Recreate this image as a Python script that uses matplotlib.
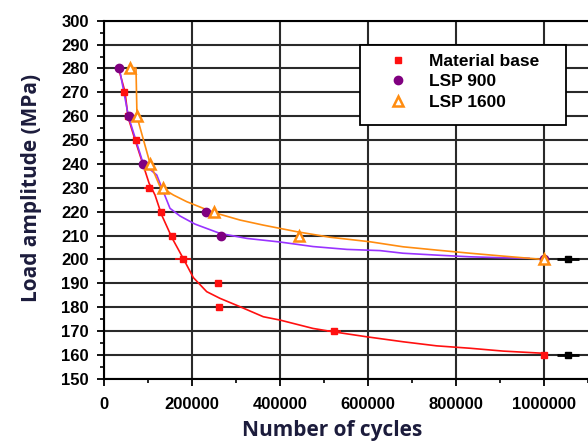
import numpy as np
import matplotlib
matplotlib.use('Agg')
import matplotlib.pyplot as plt
from matplotlib.ticker import MultipleLocator
from matplotlib.patches import Rectangle

# measured points
base_x = [46000, 54000, 72000, 102000, 129500, 155000, 180000, 258000, 262000, 522700, 1000000]
base_y = [270, 260, 250, 230, 220, 210, 200, 190, 180, 170, 160]
base_xerr = [0, 0, 0, 11000, 0, 0, 18000, 0, 0, 16000, 0]

lsp900_x = [34800, 55700, 89300, 232000, 266000, 1000000]
lsp900_y = [280, 260, 240, 220, 210, 200]

lsp1600_x = [59100, 75000, 104500, 133400, 251100, 443200, 1000000]
lsp1600_y = [280, 260, 240, 230, 220, 210, 200]

# run-out markers
runout_x = [1055000, 1055000]
runout_y = [200, 160]
runout_xerr = [25000, 25000]

# fitted curves
base_fit_x = [34100, 47700, 54500, 70500, 102300, 115900, 131100, 155200, 179500, 203000,
              233400, 263600, 309100, 362000, 400000, 475000, 520500, 597000, 680200,
              756100, 831800, 907500, 998400]
base_fit_y = [279.3, 270.3, 259.7, 250.1, 232.0, 227.0, 218.6, 208.8, 200.6, 192.4,
              186.5, 183.7, 180.2, 176.0, 174.6, 171.1, 169.7, 167.6, 165.5,
              163.8, 162.8, 161.6, 160.7]

lsp900_fit_x = [34800, 55700, 89300, 119800, 134800, 150000, 172700, 206800, 263600, 325000,
                400000, 475000, 552300, 627300, 679500, 756800, 831800, 906800, 965900]
lsp900_fit_y = [280.2, 259.8, 240.0, 235.4, 228.4, 221.4, 218.2, 214.8, 210.9, 208.8,
                207.3, 205.4, 204.2, 203.7, 202.6, 201.8, 201.1, 200.7, 200.5]

lsp1600_fit_x = [59100, 72700, 75000, 104500, 127300, 157500, 187900, 225700, 256100, 309100,
                 361400, 438600, 513600, 604500, 679500, 756800, 831800, 906800, 997700]
lsp1600_fit_y = [280.2, 280.2, 259.8, 240.3, 230.5, 227.0, 224.2, 221.4, 219.3, 216.5,
                 214.4, 211.6, 209.3, 207.4, 205.3, 203.9, 202.6, 201.4, 200.0]

red = '#ff1010'
purple = '#800080'
violet = '#9933ff'
orange = '#ff8c10'

fig = plt.figure(figsize=(5.88, 4.41), dpi=100)
ax = fig.add_axes([104 / 588, 1 - 378.8 / 441, 484 / 588, 358.1 / 441])

ax.grid(True, which='major', color='#2a2a2a', lw=1.5, zorder=0)
ax.set_axisbelow(True)

ax.plot(base_fit_x, base_fit_y, color=red, lw=1.2, zorder=2)
ax.plot(lsp900_fit_x, lsp900_fit_y, color=violet, lw=1.2, zorder=2)
ax.plot(lsp1600_fit_x, lsp1600_fit_y, color=orange, lw=1.2, zorder=2)

ax.errorbar(base_x, base_y, xerr=base_xerr, fmt='none', ecolor=red, elinewidth=1.2,
            capsize=0, zorder=3)
h1, = ax.plot(base_x, base_y, 's', color=red, ms=5, zorder=4, label='Material base')
h2, = ax.plot(lsp900_x, lsp900_y, 'o', color=purple, ms=6, zorder=4, label='LSP 900')
h3, = ax.plot(lsp1600_x, lsp1600_y, '^', color=orange, mfc='white', mec=orange, mew=1.8, ms=7,
              zorder=5, label='LSP 1600')
ax.errorbar(runout_x, runout_y, xerr=runout_xerr, fmt='s', color='black', ms=5,
            elinewidth=2, capsize=0, zorder=4)

ax.set_xlim(0, 1100000)
ax.set_ylim(150, 300)
ax.xaxis.set_major_locator(MultipleLocator(200000))
ax.xaxis.set_minor_locator(MultipleLocator(100000))
ax.yaxis.set_major_locator(MultipleLocator(10))
ax.yaxis.set_minor_locator(MultipleLocator(5))
ax.xaxis.set_major_formatter(matplotlib.ticker.FuncFormatter(lambda v, p: '%d' % v))

for lab in ax.get_xticklabels() + ax.get_yticklabels():
    lab.set_fontfamily(['Liberation Sans', 'DejaVu Sans'])
    lab.set_fontweight('bold')
    lab.set_fontsize(12)

ax.tick_params(axis='both', which='major', length=5, width=1.3, color='black', direction='out')
ax.tick_params(axis='both', which='minor', length=3, width=1.2, color='black', direction='out')
ax.tick_params(axis='y', pad=6)
ax.tick_params(axis='x', pad=8)

for s in ['left', 'bottom', 'top']:
    ax.spines[s].set_linewidth(1.5)
    ax.spines[s].set_color('black')
ax.spines['right'].set_visible(False)

label_color = '#1c1c3c'
ax.set_xlabel('Number of cycles', family=['Open Sans', 'DejaVu Sans'], weight='bold',
              fontsize=15, color=label_color)
ax.xaxis.set_label_coords((332 - 104) / 484, -0.115)
ax.set_ylabel('Load amplitude (MPa)', family=['Open Sans', 'DejaVu Sans'], weight='bold',
              fontsize=15, color=label_color)
ax.yaxis.set_label_coords(-0.128, 0.534)

# legend frame drawn separately so its size matches the reference box
box = Rectangle((0.529, 0.709), 0.4255, 0.223, transform=ax.transAxes, facecolor='white',
                edgecolor='black', lw=1.3, zorder=9)
ax.add_patch(box)
leg = ax.legend(handles=[h1, h2, h3], loc='upper left', bbox_to_anchor=(0.529, 0.932),
                numpoints=1,
                prop=dict(family=['Liberation Sans', 'DejaVu Sans'], weight='bold', size=12.5),
                frameon=False, borderpad=0.5, handlelength=3.4, handletextpad=0.05,
                labelspacing=0.3, borderaxespad=0)
leg.set_zorder(10)

fig.savefig('out.png', dpi=100)
